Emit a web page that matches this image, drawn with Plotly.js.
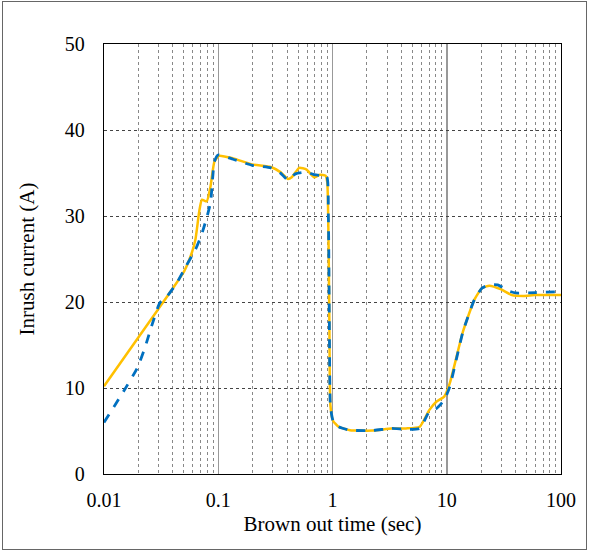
<!DOCTYPE html>
<html>
<head>
<meta charset="utf-8">
<script src="https://cdn.plot.ly/plotly-3.0.1.min.js"></script>
<style>
  body { margin: 0; background: #fff; }
  #wrap { position: relative; width: 590px; height: 553px; }
  #chart { position: absolute; left: 0; top: 0; width: 590px; height: 553px; }
  #frame { position: absolute; left: 2px; top: 1px; width: 583px; height: 547px; border: 1px solid #666; pointer-events: none; }
</style>
</head>
<body>
<div id="wrap"><div id="chart"></div><div id="frame"></div></div>
<script>
// Brown out time (sec) and inrush current (A)
const solidX = [0.01, 0.0296, 0.0504, 0.0586, 0.0632, 0.0683, 0.072, 0.0793, 0.0857, 0.0925, 0.1013, 0.135, 0.198, 0.289, 0.35, 0.407, 0.44, 0.511, 0.593, 0.692, 0.776, 0.869, 0.9, 0.938, 0.958, 1.01, 1.13, 1.42, 2.24, 3.28, 4.4, 5.8, 7.0, 8.1, 9.5, 10.6, 13.9, 17.5, 20.3, 23.6, 29.6, 37.2, 47, 59, 100];
const solidY = [10.2, 19.1, 23.6, 25.7, 27.3, 30.6, 31.9, 31.7, 33.5, 36.3, 37.0, 36.7, 36.0, 35.7, 35.1, 34.3, 34.5, 35.6, 35.4, 34.5, 34.8, 34.7, 33.9, 18.3, 8.0, 6.2, 5.5, 5.1, 5.05, 5.3, 5.3, 5.5, 7.4, 8.4, 9.0, 10.5, 16.6, 20.3, 21.6, 21.9, 21.5, 20.8, 20.7, 20.8, 20.8];

const dashX = [0.01, 0.0149, 0.0195, 0.0227, 0.0264, 0.0308, 0.0358, 0.0433, 0.0524, 0.0632, 0.0709, 0.0793, 0.0857, 0.0925, 0.0998, 0.135, 0.198, 0.289, 0.35, 0.407, 0.473, 0.593, 0.692, 0.776, 0.89, 0.92, 0.938, 0.958, 1.01, 1.13, 1.42, 2.24, 3.28, 4.4, 5.8, 7.0, 8.1, 9.5, 10.6, 13.9, 17.5, 20.3, 23.6, 27.9, 34.6, 40, 60, 100];
const dashY = [6.0, 9.65, 12.3, 14.6, 17.4, 19.9, 20.7, 22.2, 24.2, 26.1, 27.7, 29.8, 31.6, 36.3, 37.1, 36.6, 35.9, 35.6, 35.0, 34.2, 34.9, 35.1, 34.8, 34.7, 34.6, 30.0, 18.3, 8.0, 6.2, 5.5, 5.1, 5.05, 5.3, 5.2, 5.3, 7.2, 7.6, 8.6, 10.1, 16.6, 20.3, 21.6, 22.0, 22.0, 21.3, 21.05, 21.1, 21.2];

const xTickVals = [0.01, 0.1, 1, 10, 100];
const xTickText = ['0.01', '0.1', '1', '10', '100'];
const yTickVals = [0, 10, 20, 30, 40, 50];

const minorVals = [];
[0.01, 0.1, 1, 10].forEach(d => { for (let k = 2; k <= 9; k++) minorVals.push(d * k); });

const fam = 'Liberation Serif, Times New Roman, serif';
const tickFont = {family: fam, size: 20, color: '#000'};
const titleFont = {family: fam, size: 21, color: '#000'};

const traces = [
  {x: solidX, y: solidY, type: 'scatter', mode: 'lines',
   line: {color: '#FFC000', width: 2.5, shape: 'spline', smoothing: 0.5}, showlegend: false},
  {x: dashX, y: dashY, type: 'scatter', mode: 'lines',
   line: {color: '#0070C0', width: 2.8, dash: 'dash', shape: 'spline', smoothing: 0.5}, showlegend: false}
];

const layout = {
  width: 590, height: 553,
  margin: {l: 104, r: 29, t: 44, b: 79},
  paper_bgcolor: '#fff', plot_bgcolor: '#fff',
  font: tickFont,
  showlegend: false,
  xaxis: {
    type: 'log', range: [-2, 2],
    tickmode: 'array', tickvals: xTickVals, ticktext: xTickText,
    tickfont: tickFont, ticklabelstandoff: 8,
    showline: true, mirror: true, linecolor: '#000', linewidth: 1.2,
    ticks: '', showgrid: true, gridcolor: '#999', gridwidth: 1.5,
    minor: {tickmode: 'array', tickvals: minorVals, showgrid: true, gridcolor: '#888', griddash: 'dot', gridwidth: 1, ticks: ''},
    zeroline: false,
    title: {text: 'Brown out time (sec)', font: titleFont, standoff: 6}
  },
  yaxis: {
    range: [0, 50], tickmode: 'array', tickvals: yTickVals,
    tickfont: tickFont, ticklabelstandoff: 14,
    showline: true, mirror: true, linecolor: '#000', linewidth: 1.2,
    ticks: '', showgrid: true, gridcolor: '#444', griddash: 'dot', gridwidth: 1,
    zeroline: false,
    title: {text: 'Inrush current (A)', font: titleFont, standoff: 24}
  }
};

Plotly.newPlot('chart', traces, layout, {displayModeBar: false, staticPlot: true});
</script>
</body>
</html>
